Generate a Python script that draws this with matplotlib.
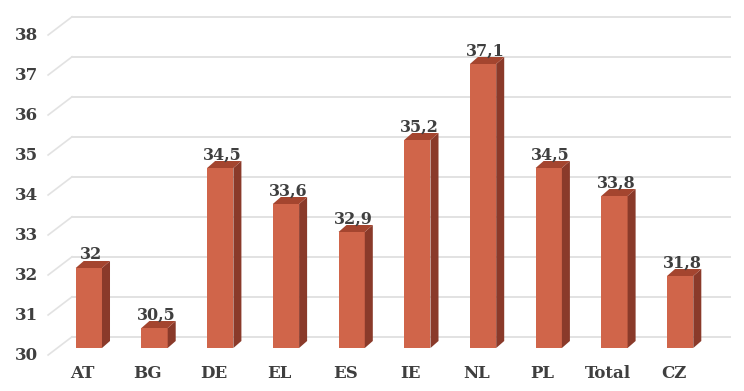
import matplotlib.pyplot as plt
from matplotlib.patches import Polygon

categories = ['AT', 'BG', 'DE', 'EL', 'ES', 'IE', 'NL', 'PL', 'Total', 'CZ']
values = [32, 30.5, 34.5, 33.6, 32.9, 35.2, 37.1, 34.5, 33.8, 31.8]
labels = ['32', '30,5', '34,5', '33,6', '32,9', '35,2', '37,1', '34,5', '33,8', '31,8']
yticks = [30, 31, 32, 33, 34, 35, 36, 37, 38]

front_col = '#D0654A'
side_col = '#8A3A2A'
top_col = '#A4452F'
text_col = '#3F3F3F'
grid_col = '#E2E2E2'

fig = plt.figure(figsize=(7.44, 3.91), dpi=100)
ax = fig.add_axes([56 / 744, 43 / 391, 657 / 744, 320 / 391])
ax.set_xlim(-0.5, 9.5)
ax.set_ylim(30, 38)
ax.axis('off')

# fake 3d depth, in data units (about 8px right, 7px up)
ddx, ddy = 0.122, 0.175
# back wall / front edge of the floor
wall_dy = 0.28
front_dy = -0.175
x_front, x_wall, x_end = -0.62, -0.256, 9.76

for v in yticks:
    ax.plot([x_wall, x_end], [v + wall_dy, v + wall_dy], color=grid_col,
            lw=1.4, clip_on=False, zorder=1)
    ax.plot([x_front, x_wall], [v + front_dy, v + wall_dy], color=grid_col,
            lw=1.2, clip_on=False, zorder=1)
    ax.text(-0.77, v + front_dy, str(v), ha='right', va='center',
            fontsize=12, fontweight='heavy', family='DejaVu Serif',
            color=text_col)

w = 0.4
xs = list(range(len(categories)))
ax.bar(xs, [v - 30 for v in values], bottom=30, width=w, color=front_col,
       zorder=3)

for x, v, lab in zip(xs, values, labels):
    x0, x1 = x - w / 2, x + w / 2
    side = Polygon([(x1, 30), (x1 + ddx, 30 + ddy), (x1 + ddx, v + ddy), (x1, v)],
                   closed=True, facecolor=side_col, edgecolor='none', zorder=3)
    top = Polygon([(x0, v), (x1, v), (x1 + ddx, v + ddy), (x0 + ddx, v + ddy)],
                  closed=True, facecolor=top_col, edgecolor='none', zorder=3)
    ax.add_patch(side)
    ax.add_patch(top)
    ax.text(x + 0.03, v + 0.22, lab, ha='center', va='baseline',
            fontsize=11.5, fontweight='heavy', family='DejaVu Serif',
            color=text_col, zorder=4)

for x, c in zip(xs, categories):
    ax.text(x - 0.1, 29.35, c, ha='center', va='center', fontsize=12,
            fontweight='heavy', family='DejaVu Serif', color=text_col)

fig.savefig('out.png', dpi=100)
